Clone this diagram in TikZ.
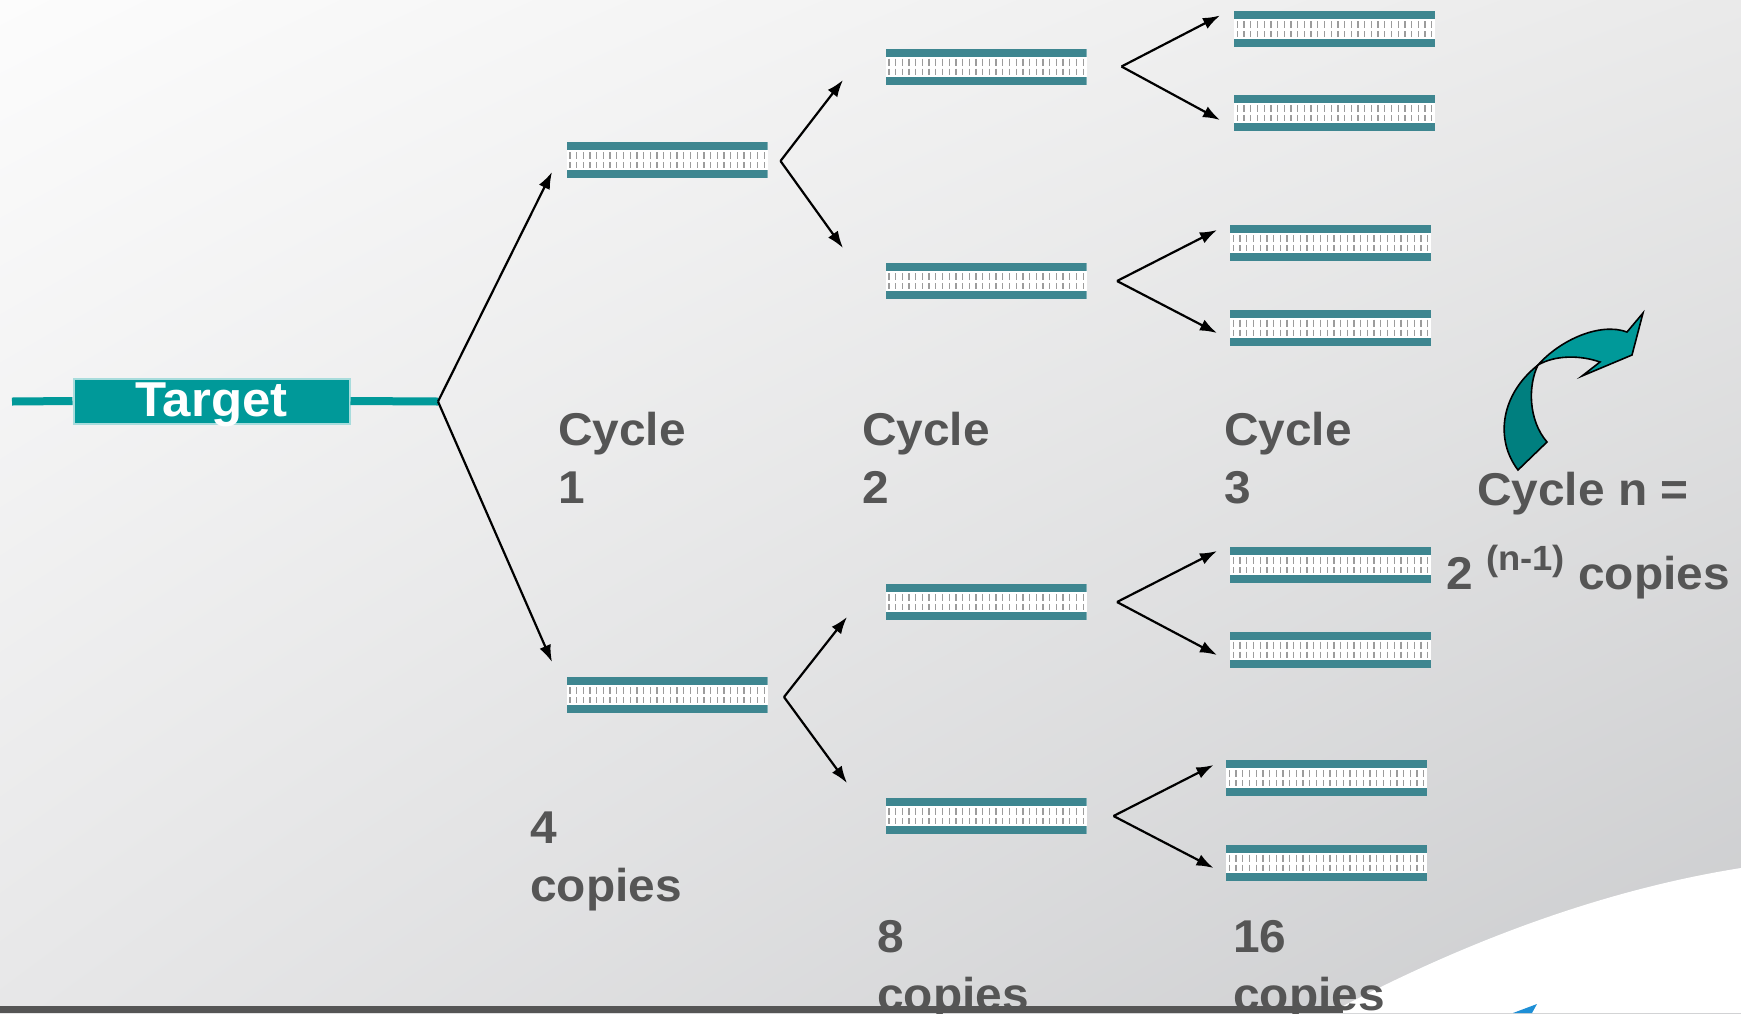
\documentclass[tikz,border=0pt]{standalone}
\usepackage{fontspec}
\setmainfont{Liberation Sans}[FakeStretch=1.04]
\usetikzlibrary{arrows.meta,shadings}

\definecolor{bgA}{HTML}{FCFCFC}
\definecolor{bgB}{HTML}{EAEAEA}
\definecolor{bgC}{HTML}{E7E7E8}
\definecolor{bgD}{HTML}{CBCCCE}
\definecolor{strand}{HTML}{3E8690}
\definecolor{rungcol}{HTML}{9C9C9C}
\definecolor{targetfill}{HTML}{009999}
\definecolor{targetrim}{HTML}{A8DCDC}
\definecolor{labelgrey}{HTML}{555555}
\definecolor{bardark}{HTML}{555555}
\definecolor{swirlhi}{HTML}{009999}
\definecolor{swirllo}{HTML}{007F7F}
\definecolor{logoblue}{HTML}{1E8FD6}

\begin{document}
\begin{tikzpicture}[x=1pt, y=-1pt,
    dna/.style={rectangle, minimum width=201pt, minimum height=36pt, inner sep=0pt, fill=white,
        path picture={
            \fill[strand] (path picture bounding box.north west) rectangle ([yshift=-8pt]path picture bounding box.north east);
            \fill[strand] (path picture bounding box.south west) rectangle ([yshift=8pt]path picture bounding box.south east);
            \foreach \k in {0,...,29} {
                \draw[rungcol, line width=1.3pt]
                    ([xshift=3.4pt+\k*6.7pt, yshift=-10pt]path picture bounding box.north west) -- ++(0pt,-7pt)
                    ([xshift=3.4pt+\k*6.7pt, yshift=-20pt]path picture bounding box.north west) -- ++(0pt,-6pt);
            }
        }},
    target/.style={rectangle, draw=targetrim, line width=2pt, fill=targetfill, text=white,
        minimum width=276pt, minimum height=45pt, inner sep=0pt, text height=34pt, text depth=4pt,
        font=\fontsize{49}{49}\selectfont\bfseries},
    tline/.style={draw=targetfill, line width=8pt},
    lbl/.style={anchor=base west, inner sep=0pt, align=left, text=labelgrey,
        font=\fontsize{46}{58}\selectfont\bfseries},
    arr/.style={->, line width=2.2pt},
    >={Latex[length=17pt,width=12pt]}
]
\useasboundingbox (0,0) rectangle (1741,1013);
\clip (0,0) rectangle (1741,1013);
% background
\shade[upper left=bgA, upper right=bgB, lower left=bgC, lower right=bgD] (0,0) rectangle (1741,1013);
\fill[white] (1330,1013) .. controls (1420,965) and (1570,895) .. (1741,868) -- (1741,1013) -- cycle;

% template
\node[target] (tgt) at (211.5,401) {Target};
\coordinate (tl) at (12,401.5);
\coordinate (f0) at (438,401.5);
\draw[tline] (tl) -- (tgt.west);
\draw[tline] (tgt.east) -- (f0);

% copies after each cycle
\node[dna] (s1a) at (667,160) {};
\node[dna] (s1b) at (667,695) {};
\node[dna] (s2a) at (986,66.5) {};
\node[dna] (s2b) at (986,281) {};
\node[dna] (s2c) at (986,602) {};
\node[dna] (s2d) at (986,816) {};
\node[dna] (s3a) at (1334.5,29) {};
\node[dna] (s3b) at (1334.5,113) {};
\node[dna] (s3c) at (1330.5,243) {};
\node[dna] (s3d) at (1330.5,327.5) {};
\node[dna] (s3e) at (1330.5,565) {};
\node[dna] (s3f) at (1330.5,649.5) {};
\node[dna] (s3g) at (1326.5,778) {};
\node[dna] (s3h) at (1326.5,862.7) {};

% forks
\coordinate (f1a) at (780.5,161);
\coordinate (f1b) at (784,697);
\coordinate (f2a) at (1121.5,66.5);
\coordinate (f2b) at (1117,281);
\coordinate (f2c) at (1117,602);
\coordinate (f2d) at (1113.5,816);

\coordinate (t1a) at (552,172);
\coordinate (t1b) at (552,662);
\coordinate (t2a) at (843,80);
\coordinate (t2b) at (843,248);
\coordinate (t2c) at (847,617);
\coordinate (t2d) at (847,783);
\coordinate (t3a) at (1220,15.5);
\coordinate (t3b) at (1220,120);
\coordinate (t3c) at (1217,230);
\coordinate (t3d) at (1217,333);
\coordinate (t3e) at (1217,551);
\coordinate (t3f) at (1217,655);
\coordinate (t3g) at (1213.5,765);
\coordinate (t3h) at (1213.5,868);

\draw[arr] (f0) -- (t1a);
\draw[arr] (f0) -- (t1b);
\draw[arr] (f1a) -- (t2a);
\draw[arr] (f1a) -- (t2b);
\draw[arr] (f1b) -- (t2c);
\draw[arr] (f1b) -- (t2d);
\draw[arr] (f2a) -- (t3a);
\draw[arr] (f2a) -- (t3b);
\draw[arr] (f2b) -- (t3c);
\draw[arr] (f2b) -- (t3d);
\draw[arr] (f2c) -- (t3e);
\draw[arr] (f2c) -- (t3f);
\draw[arr] (f2d) -- (t3g);
\draw[arr] (f2d) -- (t3h);

% labels (anchored on the baseline of the last line)
\node[lbl] (c1) at (558,503) {Cycle\\1};
\node[lbl] (c2) at (862,503) {Cycle\\2};
\node[lbl] (c3) at (1224,503) {Cycle\\3};
\node[lbl] (n4) at (530,901) {4\\copies};
\node[lbl] (n8) at (877,1010) {8\\copies};
\node[lbl] (n16) at (1233,1010) {16\\copies};
\node[lbl] (cn) at (1477,505) {Cycle n =};
\node[lbl] (pow) at (1446,589) {2 \raisebox{19pt}{\fontsize{35}{35}\selectfont(n-1)} copies};

% swirl arrow
\fill[swirllo, draw=black, line width=1.6pt] (1518,470) .. controls (1495,440) and (1500,395) .. (1538,365)
    .. controls (1528,385) and (1528,420) .. (1547,442) -- cycle;
\fill[swirlhi, draw=black, line width=1.6pt] (1538,365) .. controls (1560,340) and (1600,322) .. (1627,332)
    -- (1643,313) -- (1632,355) -- (1582,376) -- (1600,362)
    .. controls (1580,355) and (1555,355) .. (1538,365) -- cycle;

% footer
\fill[bardark] (0,1006) rectangle (1343,1013);
\fill[logoblue] (1513,1013) -- (1537,1004) -- (1532,1013) -- cycle;
\end{tikzpicture}
\end{document}
